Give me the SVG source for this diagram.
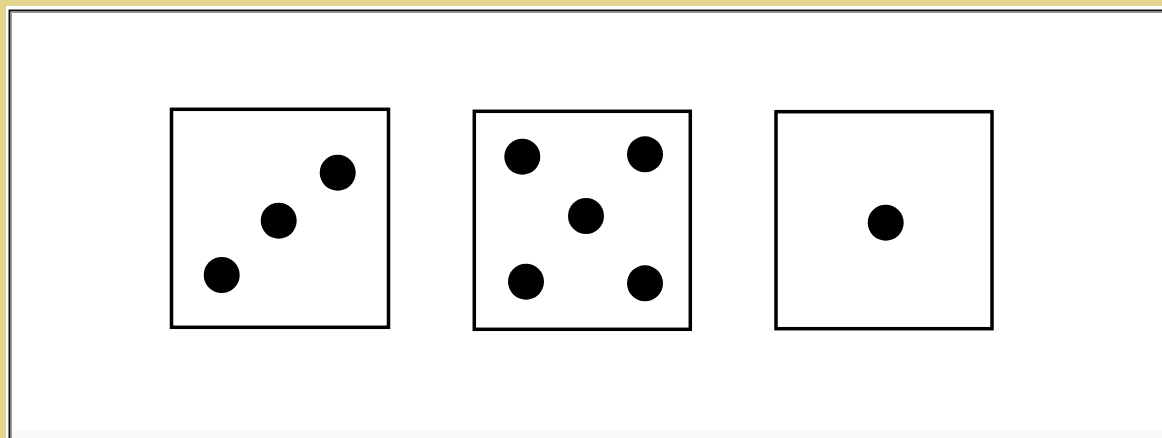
<svg xmlns="http://www.w3.org/2000/svg" width="1162" height="438" viewBox="0 0 1162 438">
<style>
.box{fill:#fff;stroke:#000;stroke-width:3.5}
.pip{fill:#000}
</style>
<rect x="0" y="0" width="1162" height="438" fill="#E3D48E"/>
<rect x="6" y="6" width="1156" height="432" fill="#fff"/>
<path d="M9.5 438 V10.5 H1162" fill="none" stroke="#111" stroke-width="2"/>
<path d="M11.5 438 V12.5 H1162" fill="none" stroke="#999" stroke-width="1"/>
<rect x="12" y="430" width="1150" height="8" fill="#fafafa"/>
<g id="die1">
<rect class="box" x="171.5" y="109.3" width="217" height="218"/>
<circle class="pip" cx="337.7" cy="172.7" r="18"/>
<circle class="pip" cx="278.7" cy="220.7" r="18"/>
<circle class="pip" cx="221.7" cy="275" r="18"/>
</g>
<g id="die5">
<rect class="box" x="474.3" y="111.3" width="216" height="218"/>
<circle class="pip" cx="522.3" cy="156.7" r="18"/>
<circle class="pip" cx="645" cy="154.3" r="18"/>
<circle class="pip" cx="586" cy="216" r="18"/>
<circle class="pip" cx="526" cy="281.7" r="18"/>
<circle class="pip" cx="645" cy="283.3" r="18"/>
</g>
<g id="die3">
<rect class="box" x="776" y="111.7" width="216" height="217"/>
<circle class="pip" cx="885.7" cy="222.7" r="18"/>
</g>
<g id="connectors"></g>
</svg>
